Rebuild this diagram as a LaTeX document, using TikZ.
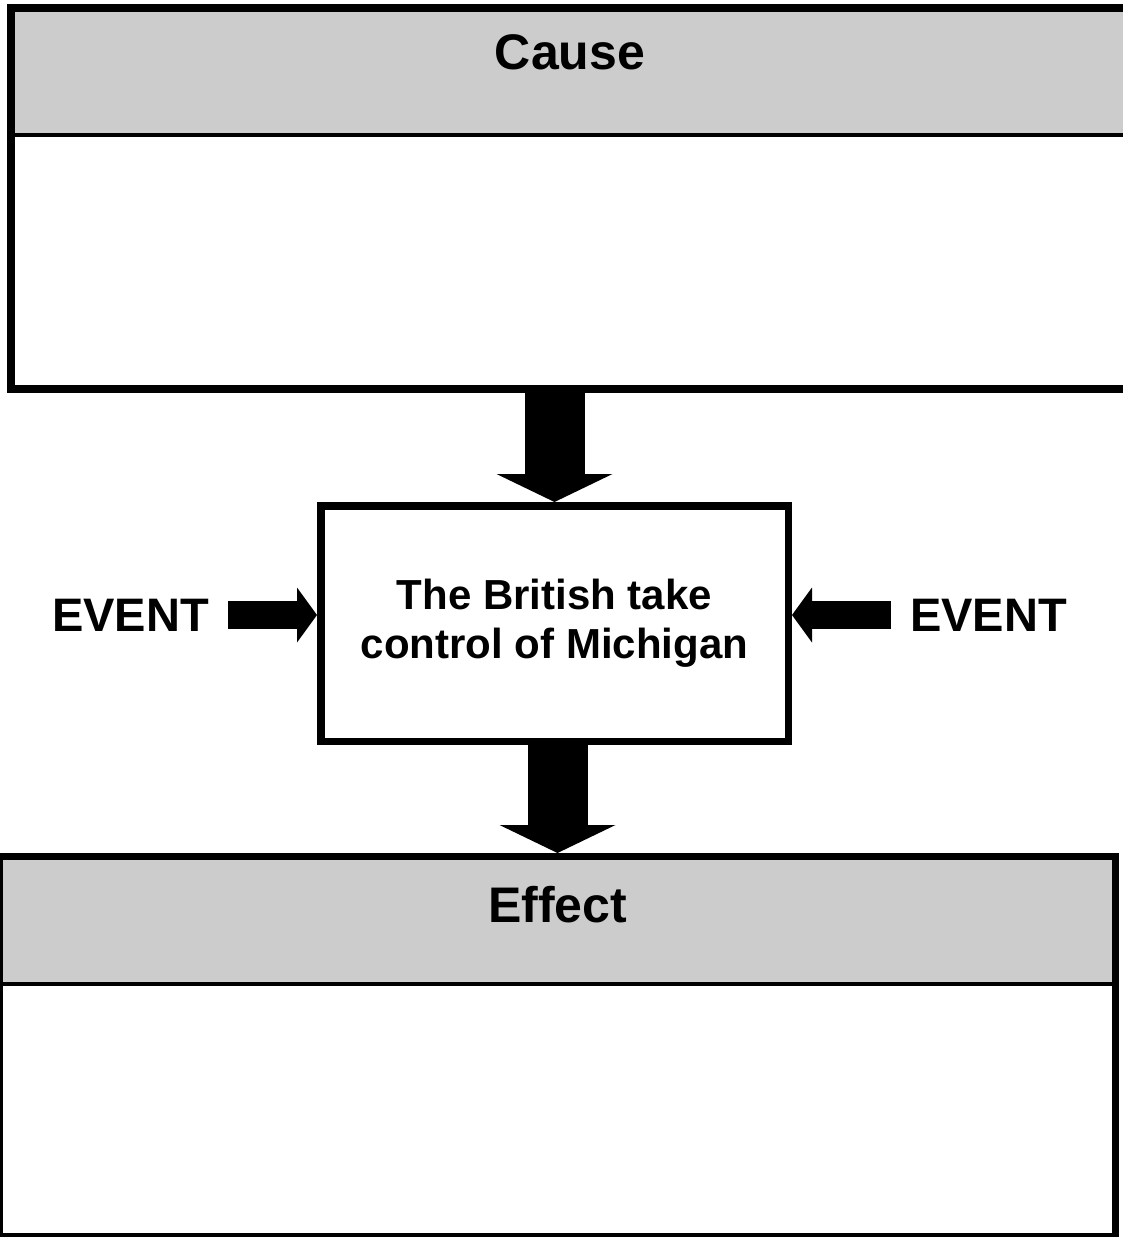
\documentclass[tikz,border=0pt]{standalone}
\usepackage{fontspec}
\setmainfont{Liberation Sans}
\usetikzlibrary{arrows.meta,positioning,backgrounds}

\begin{document}
\begin{tikzpicture}[
  x=1pt, y=-1pt,
  font=\bfseries,
  frame/.style={draw=black, line width=8pt, inner sep=0pt},
  eventbox/.style={draw=black, line width=7.5pt, fill=white, minimum width=467.5pt, minimum height=235.5pt, align=center, font=\bfseries\fontsize{42}{49}\selectfont},
  band/.style={fill=black!20},
  divider/.style={line width=4.5pt},
  heading/.style={font=\bfseries\fontsize{50}{60}\selectfont, inner sep=0pt},
  eventlabel/.style={font=\bfseries\fontsize{47}{56}\selectfont, inner xsep=19pt, inner ysep=0pt},
  bigarrow/.style={line width=60pt, -{Triangle[width=116pt, length=28pt, line width=0pt]}},
  sidearrow/.style={line width=28pt, -{Triangle[width=55pt, length=20pt, line width=0pt]}}
]
\useasboundingbox (0,0) rectangle (1122,1237);

\node[frame, minimum width=1118pt, minimum height=381pt] (causebox) at (570,198.5) {};
\node[heading] (cause) at (570,52) {Cause};
\node[eventbox, below=109pt of causebox.south, xshift=-15.5pt] (event) {The British take\\control of Michigan};
\node[frame, line width=7pt, minimum width=1116pt, minimum height=380pt, below=108pt of event.south, xshift=3pt] (effectbox) {};
\node[heading] (effect) at (557.5,905) {Effect};
\node[eventlabel, left=89pt of event.west, yshift=8.5pt] (leftevent) {EVENT};
\node[eventlabel, right=99pt of event.east, yshift=8.5pt] (rightevent) {EVENT};

\begin{scope}[on background layer]
\fill[band] (causebox.north west) rectangle ([yshift=-131pt]causebox.north east);
\fill[band] (effectbox.north west) rectangle ([yshift=-131pt]effectbox.north east);
\end{scope}
\draw[divider] ([yshift=-131pt]causebox.north west) -- ([yshift=-131pt]causebox.north east);
\draw[divider] ([yshift=-131pt]effectbox.north west) -- ([yshift=-131pt]effectbox.north east);

\draw[bigarrow] (causebox.south -| event.north) -- (event.north);
\draw[bigarrow] (event.south -| effectbox.north) -- (effectbox.north);
\draw[sidearrow] (leftevent.east) -- (leftevent.east -| event.west);
\draw[sidearrow] (rightevent.west) -- (rightevent.west -| event.east);
\end{tikzpicture}
\end{document}
